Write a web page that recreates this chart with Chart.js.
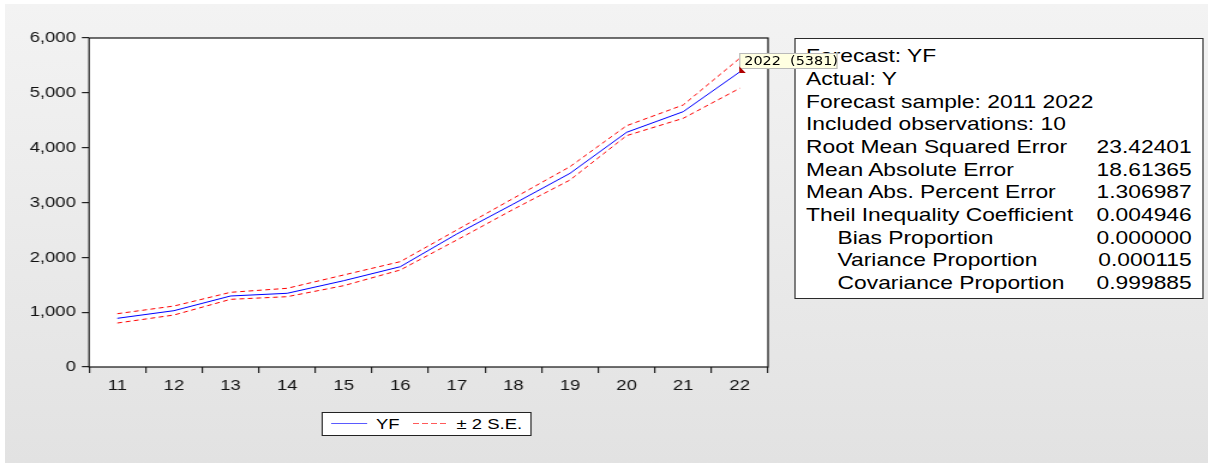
<!DOCTYPE html>
<html>
<head>
<meta charset="utf-8">
<script src="https://cdn.jsdelivr.net/npm/chart.js@4.4.1/dist/chart.umd.min.js"></script>
<style>
html,body{margin:0;padding:0;background:#fff;width:1208px;height:463px;overflow:hidden;}
#bg{position:absolute;left:5px;top:4px;width:1203px;height:459px;background:linear-gradient(to bottom,#f3f3f3,#e2e2e2);}
#stage{position:absolute;left:0;top:0;width:1007px;height:463px;transform:scaleX(1.2);transform-origin:0 0;}
#chart{position:absolute;left:0;top:0;}
#stats{position:absolute;left:661.7px;top:38px;width:341.2px;height:261px;box-sizing:border-box;border:1px solid #2a2a2a;background:#fff;font-family:"Liberation Sans",Arial,sans-serif;font-size:19px;color:#000;}
.row{position:absolute;left:0;right:0;height:19px;line-height:19px;white-space:nowrap;}
.row .lab{position:absolute;left:9px;}
.row .lab.ind{left:35.3px;}
.row .val{position:absolute;right:8.8px;}
#legend{position:absolute;left:267.5px;top:412.3px;width:175.6px;height:23.7px;box-sizing:border-box;border:1px solid #222;background:#fff;font-family:"Liberation Sans",Arial,sans-serif;font-size:15.4px;color:#000;}
#legend .s1{position:absolute;left:7.1px;top:10.2px;width:30.2px;height:1px;background:#5a5aff;}
#legend .s2{position:absolute;left:75.5px;top:10.2px;width:27.7px;height:1px;background:repeating-linear-gradient(to right,#ff5a5a 0 5px,transparent 5px 7.5px);}
#legend .t{position:absolute;top:0;line-height:21.7px;white-space:nowrap;}
#tip{position:absolute;height:16px;width:82.5px;box-sizing:border-box;border:1px solid #b9b9b9;background:#ffffe1;font-family:"DejaVu Sans",sans-serif;font-size:12px;line-height:14px;padding-left:3.3px;color:#000;white-space:pre;z-index:5;}
#tri{position:absolute;width:5.6px;height:6.7px;background:#b00000;clip-path:polygon(0 0,0 100%,100% 100%);z-index:6;}
</style>
</head>
<body>
<div id="bg"></div>
<div id="stage">
  <canvas id="chart" width="1007" height="463"></canvas>
  <div id="stats"></div>
  <div id="legend"></div>
  <div id="tip"></div>
  <div id="tri"></div>
</div>
<script>
// ---- data ----
const categories = ['11','12','13','14','15','16','17','18','19','20','21','22'];
const tooltipYears = ['2011','2012','2013','2014','2015','2016','2017','2018','2019','2020','2021','2022'];
const yfValues    = [888, 1027, 1295, 1344, 1574, 1829, 2426, 2973, 3532, 4280, 4656, 5381];
const upperValues = [972, 1112, 1362, 1435, 1678, 1921, 2499, 3077, 3654, 4400, 4778, 5630];
const lowerValues = [802,  948, 1234, 1282, 1483, 1769, 2316, 2876, 3410, 4219, 4535, 5083];
const yTickValues = [0, 1000, 2000, 3000, 4000, 5000, 6000];
const legendLabels = ['YF', '\u00B1 2 S.E.'];
const statLabels = ['Forecast: YF','Actual: Y','Forecast sample: 2011 2022','Included observations: 10',
  'Root Mean Squared Error','Mean Absolute Error','Mean Abs. Percent Error','Theil Inequality Coefficient',
  'Bias Proportion','Variance Proportion','Covariance Proportion'];
const statValues = ['','','','','23.42401','18.61365','1.306987','0.004946','0.000000','0.000115','0.999885'];
const statIndented = [false,false,false,false,false,false,false,false,true,true,true];

// ---- stats box ----
const stats = document.getElementById('stats');
statLabels.forEach((lab, i) => {
  const r = document.createElement('div');
  r.className = 'row';
  r.style.top = (7.3 + 22.65 * i) + 'px';
  const l = document.createElement('span');
  l.className = 'lab' + (statIndented[i] ? ' ind' : '');
  l.textContent = lab;
  r.appendChild(l);
  if (statValues[i]) {
    const v = document.createElement('span');
    v.className = 'val';
    v.textContent = statValues[i];
    r.appendChild(v);
  }
  stats.appendChild(r);
});

// ---- legend ----
const lg = document.getElementById('legend');
lg.innerHTML = '<div class="s1"></div><span class="t" style="left:44.8px"></span><div class="s2"></div><span class="t" style="left:112px"></span>';
const lts = lg.querySelectorAll('.t');
lts[0].textContent = legendLabels[0];
lts[1].textContent = legendLabels[1];

const FONT = {family: '"Liberation Sans", Arial, sans-serif', size: 15.4};

const framePlugin = {
  id: 'frame',
  beforeDraw(chart) {
    const {ctx, chartArea: a} = chart;
    ctx.save();
    ctx.fillStyle = '#ffffff';
    ctx.fillRect(a.left, a.top, a.right - a.left, a.bottom - a.top);
    ctx.restore();
  },
  afterDraw(chart) {
    const {ctx, chartArea: a} = chart;
    ctx.save();
    ctx.strokeStyle = '#111';
    ctx.lineWidth = 1.2;
    ctx.strokeRect(a.left, a.top, a.right - a.left, a.bottom - a.top);
    ctx.restore();
  },
  afterRender(chart) {
    const last = categories.length - 1;
    const px = chart.scales.x.getPixelForValue(last);
    const py = chart.scales.y.getPixelForValue(yfValues[last]);
    const tip = document.getElementById('tip');
    tip.textContent = tooltipYears[last] + '  (' + yfValues[last] + ')';
    tip.style.left = (px - 0.5) + 'px';
    tip.style.top = (py - 19.4) + 'px';
    const tri = document.getElementById('tri');
    tri.style.left = (px - 0.5) + 'px';
    tri.style.top = (py - 5.7) + 'px';
  }
};

new Chart(document.getElementById('chart'), {
  type: 'line',
  data: {
    labels: categories,
    datasets: [
      {label: legendLabels[0], data: yfValues, borderColor: '#0000ff', borderWidth: 1, pointRadius: 0, tension: 0, fill: false},
      {label: legendLabels[1], data: upperValues, borderColor: '#ff0000', borderWidth: 1, borderDash: [4, 3], pointRadius: 0, tension: 0, fill: false},
      {label: legendLabels[1], data: lowerValues, borderColor: '#ff0000', borderWidth: 1, borderDash: [4, 3], pointRadius: 0, tension: 0, fill: false}
    ]
  },
  options: {
    responsive: false,
    animation: false,
    devicePixelRatio: 1,
    layout: {padding: {left: 0, top: 38, right: 367, bottom: 0}},
    plugins: {legend: {display: false}, tooltip: {enabled: false}},
    scales: {
      x: {
        type: 'category',
        offset: true,
        grid: {offset: true, drawOnChartArea: false, drawTicks: true, tickLength: 6, color: '#222', lineWidth: 1.2},
        border: {display: false},
        ticks: {font: FONT, color: '#111', padding: 4, maxRotation: 0, autoSkip: false},
        afterFit(s) { s.height = 96; }
      },
      y: {
        min: 0, max: 6000,
        afterBuildTicks(s) { s.ticks = yTickValues.map(v => ({value: v})); },
        grid: {drawOnChartArea: false, drawTicks: true, tickLength: 6, color: '#222', lineWidth: 1.2},
        border: {display: false},
        ticks: {font: FONT, color: '#111', padding: 5, callback: v => v.toLocaleString('en-US')},
        afterFit(s) { s.width = 74.2; }
      }
    }
  },
  plugins: [framePlugin]
});
</script>
</body>
</html>
